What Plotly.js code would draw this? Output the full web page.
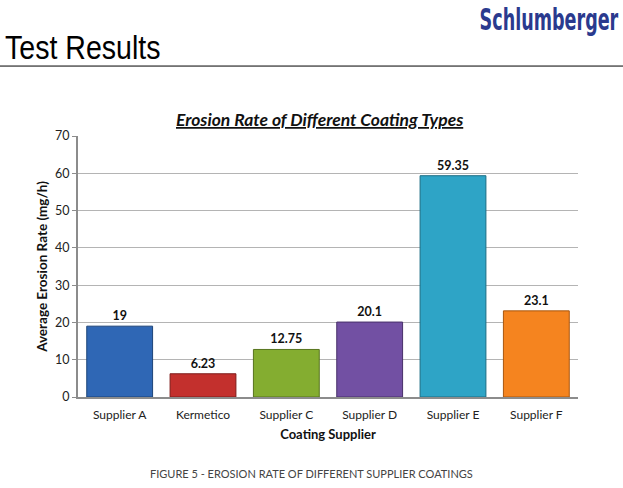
<!DOCTYPE html>
<html>
<head>
<meta charset="utf-8">
<script src="https://cdn.plot.ly/plotly-3.0.1.min.js"></script>
<style>
  html, body { margin: 0; padding: 0; background: #fff; }
  #chart { width: 623px; height: 488px; }
</style>
</head>
<body>
<div id="chart"></div>
<script>
// values
const suppliers = ['Supplier A', 'Kermetico', 'Supplier C', 'Supplier D', 'Supplier E', 'Supplier F'];
const erosionRates = [19, 6.23, 12.75, 20.1, 59.35, 23.1];
const barColors = ['#2f67b5', '#c3302d', '#84ad30', '#7250a3', '#2ea4c6', '#f5841f'];
const edgeColors = ['#1d4478', '#7e1c1a', '#56731d', '#48306a', '#1c6d84', '#a9560f'];
const yTicks = [0, 10, 20, 30, 40, 50, 60, 70];

const font = 'Lato, "Open Sans", sans-serif';

const traces = [{
  type: 'bar',
  x: suppliers,
  y: erosionRates,
  text: erosionRates.map(String),
  textposition: 'outside',
  textfont: { family: font, size: 12.5, color: '#111', weight: 'bold' },
  cliponaxis: false,
  marker: { color: barColors, line: { color: edgeColors, width: 1 } },
  hoverinfo: 'x+y'
}];

const layout = {
  width: 623,
  height: 488,
  margin: { l: 78, r: 45, t: 136, b: 91 },
  paper_bgcolor: '#fff',
  plot_bgcolor: '#fff',
  showlegend: false,
  bargap: 0.21,
  font: { family: font, size: 12, color: '#333' },
  xaxis: {
    showgrid: false,
    showline: true,
    linecolor: '#8c8c8c',
    linewidth: 2,
    ticks: '',
    ticklabelstandoff: 6,
    tickfont: { family: font, size: 12, color: '#222' },
    title: { text: 'Coating Supplier', font: { family: font, size: 13, color: '#111', weight: 'bold' }, standoff: 8 }
  },
  yaxis: {
    range: [0, 70],
    tickvals: yTicks,
    showgrid: true,
    gridcolor: '#b4b4b4',
    gridwidth: 1,
    showline: true,
    linecolor: '#8c8c8c',
    linewidth: 2,
    ticks: 'outside',
    ticklen: 4,
    tickcolor: '#8c8c8c',
    zeroline: false,
    tickfont: { family: font, size: 12.5, color: '#222' },
    title: { text: 'Average Erosion Rate (mg/h)', font: { family: font, size: 13.5, color: '#111', weight: 'bold' }, standoff: 4 }
  },
  shapes: [
    { type: 'line', xref: 'paper', yref: 'paper', x0: -0.16, x1: 1.1, y0: 1.268, y1: 1.268,
      line: { color: '#000', width: 1 } }
  ],
  annotations: [
    { text: 'Schlumberger', xref: 'paper', yref: 'paper', x: 1.084, y: 1.45,
      xanchor: 'right', yanchor: 'middle', showarrow: false,
      font: { family: '"DejaVu Sans Condensed", "Liberation Sans Narrow", sans-serif', size: 31, color: '#2a3a8e', weight: 'bold' } },
    { text: 'Test Results', xref: 'paper', yref: 'paper', x: -0.15, y: 1.341,
      xanchor: 'left', yanchor: 'middle', showarrow: false,
      font: { family: '"Liberation Sans", Arial, sans-serif', size: 34, color: '#000' } },
    { text: '<u>Erosion Rate of Different Coating Types</u>', xref: 'paper', yref: 'paper', x: 0.482, y: 1.065,
      xanchor: 'center', yanchor: 'middle', showarrow: false,
      font: { family: font, size: 17.5, color: '#111', weight: 'bold', style: 'italic' } },
    { text: 'FIGURE 5 - EROSION RATE OF DIFFERENT SUPPLIER COATINGS', xref: 'paper', yref: 'paper', x: 0.466, y: -0.295,
      xanchor: 'center', yanchor: 'middle', showarrow: false,
      font: { family: font, size: 11, color: '#444' } }
  ]
};

Plotly.newPlot('chart', traces, layout, { displayModeBar: false, staticPlot: true }).then(gd => {
  // the slide fonts are narrow; squeeze the two header texts horizontally
  const squeeze = (idx, k, anchorRight) => {
    const g = gd.querySelectorAll('.annotation')[idx];
    const t = g && g.querySelector('text');
    if (!t) return;
    const b = t.getBBox();
    const ox = anchorRight ? b.x + b.width : b.x;
    t.setAttribute('transform', `translate(${ox},0) scale(${k},1) translate(${-ox},0)`);
  };
  squeeze(0, 0.63, true);
  squeeze(1, 0.84, false);
});
</script>
</body>
</html>
